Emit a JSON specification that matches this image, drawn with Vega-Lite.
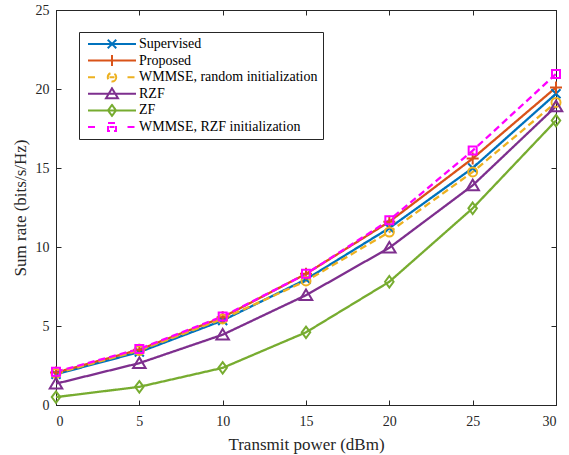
{
  "$schema": "https://vega.github.io/schema/vega-lite/v6.json",
  "width": 500,
  "height": 395,
  "autosize": {"type": "none"},
  "padding": {"left": 56, "top": 10, "right": 13, "bottom": 50},
  "background": "white",
  "config": {
    "view": {"stroke": "#262626", "strokeWidth": 1},
    "axis": {
      "grid": false,
      "labelFont": "Liberation Serif",
      "labelFontSize": 14,
      "labelColor": "#262626",
      "titleFont": "Liberation Serif",
      "titleFontSize": 17,
      "titleFontWeight": "normal",
      "titleColor": "#262626",
      "domainColor": "#262626",
      "tickColor": "#262626",
      "tickSize": -5,
      "domainWidth": 1
    },
    "point": {"filled": false, "size": 100, "strokeWidth": 2, "opacity": 1, "clip": false}
  },
  "data": {
    "values": [
      {"series": "Supervised", "x": 0, "y": 1.95},
      {"series": "Supervised", "x": 5, "y": 3.35},
      {"series": "Supervised", "x": 10, "y": 5.35},
      {"series": "Supervised", "x": 15, "y": 7.95},
      {"series": "Supervised", "x": 20, "y": 11.2},
      {"series": "Supervised", "x": 25, "y": 15.0},
      {"series": "Supervised", "x": 30, "y": 19.7},
      {"series": "Proposed", "x": 0, "y": 2.05},
      {"series": "Proposed", "x": 5, "y": 3.5},
      {"series": "Proposed", "x": 10, "y": 5.55},
      {"series": "Proposed", "x": 15, "y": 8.3},
      {"series": "Proposed", "x": 20, "y": 11.6},
      {"series": "Proposed", "x": 25, "y": 15.6},
      {"series": "Proposed", "x": 30, "y": 20.1},
      {"series": "WMMSE, random initialization", "x": 0, "y": 2.0},
      {"series": "WMMSE, random initialization", "x": 5, "y": 3.45},
      {"series": "WMMSE, random initialization", "x": 10, "y": 5.45},
      {"series": "WMMSE, random initialization", "x": 15, "y": 7.85},
      {"series": "WMMSE, random initialization", "x": 20, "y": 10.95},
      {"series": "WMMSE, random initialization", "x": 25, "y": 14.75},
      {"series": "WMMSE, random initialization", "x": 30, "y": 19.15},
      {"series": "RZF", "x": 0, "y": 1.35},
      {"series": "RZF", "x": 5, "y": 2.65},
      {"series": "RZF", "x": 10, "y": 4.45},
      {"series": "RZF", "x": 15, "y": 6.95},
      {"series": "RZF", "x": 20, "y": 9.95},
      {"series": "RZF", "x": 25, "y": 13.9},
      {"series": "RZF", "x": 30, "y": 18.9},
      {"series": "ZF", "x": 0, "y": 0.5},
      {"series": "ZF", "x": 5, "y": 1.15},
      {"series": "ZF", "x": 10, "y": 2.35},
      {"series": "ZF", "x": 15, "y": 4.6},
      {"series": "ZF", "x": 20, "y": 7.8},
      {"series": "ZF", "x": 25, "y": 12.45},
      {"series": "ZF", "x": 30, "y": 18.0},
      {"series": "WMMSE, RZF initialization", "x": 0, "y": 2.1},
      {"series": "WMMSE, RZF initialization", "x": 5, "y": 3.55},
      {"series": "WMMSE, RZF initialization", "x": 10, "y": 5.6},
      {"series": "WMMSE, RZF initialization", "x": 15, "y": 8.3},
      {"series": "WMMSE, RZF initialization", "x": 20, "y": 11.7},
      {"series": "WMMSE, RZF initialization", "x": 25, "y": 16.1},
      {"series": "WMMSE, RZF initialization", "x": 30, "y": 20.95}
    ]
  },
  "resolve": {"axis": {"x": "independent", "y": "independent"}},
  "layer": [
    {
      "mark": {"type": "line", "strokeWidth": 2.3, "clip": false},
      "encoding": {
        "x": {
          "field": "x", "type": "quantitative",
          "scale": {"domain": [0, 30], "nice": false, "zero": false},
          "axis": {"values": [0, 5, 10, 15, 20, 25, 30], "title": "Transmit power (dBm)", "labelPadding": 14, "titlePadding": 8}
        },
        "y": {
          "field": "y", "type": "quantitative",
          "scale": {"domain": [0, 25], "nice": false},
          "axis": {"values": [0, 5, 10, 15, 20, 25], "title": "Sum rate (bits/s/Hz)", "labelPadding": 12, "titlePadding": 6}
        },
        "color": {
          "field": "series", "type": "nominal",
          "scale": {
            "domain": ["Supervised", "Proposed", "WMMSE, random initialization", "RZF", "ZF", "WMMSE, RZF initialization"],
            "range": ["#0072BD", "#D95319", "#EDB120", "#7E2F8E", "#77AC30", "#FF00FF"]
          },
          "legend": {
            "title": null,
            "orient": "none",
            "legendX": 23,
            "legendY": 22,
            "padding": 5,
            "fillColor": "white",
            "strokeColor": "#262626",
            "cornerRadius": 0,
            "labelFont": "Liberation Serif",
            "labelFontSize": 14,
            "labelColor": "black",
            "labelLimit": 400,
            "labelOffset": 20,
            "symbolOffset": 21,
            "symbolSize": 100,
            "symbolStrokeWidth": 2,
            "clipHeight": 14,
            "rowPadding": 2.6,
            "symbolType": {"expr": "datum.value === 'Supervised' ? 'M-4.8,0L4.8,0M-0.85,-0.85L0.85,0.85M-0.85,0.85L0.85,-0.85' : datum.value === 'Proposed' ? 'M-4.8,0L4.8,0M0,-1.1L0,1.1' : datum.value === 'WMMSE, random initialization' ? 'M-4.8,0L-3.1,0M-0.5,0L0.5,0M3.1,0L4.8,0M0.85,0A0.85,0.85 0 1,1 -0.85,0A0.85,0.85 0 1,1 0.85,0' : datum.value === 'RZF' ? 'M-4.8,0L4.8,0M0,-1.1L1.2,0.9L-1.2,0.9Z' : datum.value === 'ZF' ? 'M-4.8,0L4.8,0M0,-1.1L0.8,0L0,1.1L-0.8,0Z' : 'M-4.8,0L-3.1,0M-0.5,0L0.5,0M3.1,0L4.8,0M-0.8,-0.8L0.8,-0.8L0.8,0.8L-0.8,0.8Z'"}
          }
        },
        "strokeDash": {
          "field": "series", "type": "nominal",
          "scale": {
            "domain": ["Supervised", "Proposed", "WMMSE, random initialization", "RZF", "ZF", "WMMSE, RZF initialization"],
            "range": [[1, 0], [1, 0], [7, 4], [1, 0], [1, 0], [7, 4]]
          },
          "legend": null
        }
      }
    },
    {
      "transform": [{"filter": "datum.series === 'Supervised'"}],
      "mark": {"type": "point", "shape": "M-0.9,-0.9L0.9,0.9M-0.9,0.9L0.9,-0.9"},
      "encoding": {
        "x": {"field": "x", "type": "quantitative", "axis": {"orient": "top", "values": [0, 5, 10, 15, 20, 25, 30], "labels": false, "title": null}},
        "y": {"field": "y", "type": "quantitative", "axis": {"orient": "right", "values": [0, 5, 10, 15, 20, 25], "labels": false, "title": null}},
        "color": {"field": "series", "type": "nominal", "legend": null}
      }
    },
    {
      "transform": [{"filter": "datum.series === 'Proposed'"}],
      "mark": {"type": "point", "shape": "M-1.2,0L1.2,0M0,-1.2L0,1.2"},
      "encoding": {
        "x": {"field": "x", "type": "quantitative", "axis": null},
        "y": {"field": "y", "type": "quantitative", "axis": null},
        "color": {"field": "series", "type": "nominal", "legend": null}
      }
    },
    {
      "transform": [{"filter": "datum.series === 'WMMSE, random initialization'"}],
      "mark": {"type": "point", "shape": "M0.9,0A0.9,0.9 0 1,1 -0.9,0A0.9,0.9 0 1,1 0.9,0"},
      "encoding": {
        "x": {"field": "x", "type": "quantitative", "axis": null},
        "y": {"field": "y", "type": "quantitative", "axis": null},
        "color": {"field": "series", "type": "nominal", "legend": null}
      }
    },
    {
      "transform": [{"filter": "datum.series === 'RZF'"}],
      "mark": {"type": "point", "shape": "M0,-1.15L1.25,0.95L-1.25,0.95Z"},
      "encoding": {
        "x": {"field": "x", "type": "quantitative", "axis": null},
        "y": {"field": "y", "type": "quantitative", "axis": null},
        "color": {"field": "series", "type": "nominal", "legend": null}
      }
    },
    {
      "transform": [{"filter": "datum.series === 'ZF'"}],
      "mark": {"type": "point", "shape": "M0,-1.15L0.85,0L0,1.15L-0.85,0Z"},
      "encoding": {
        "x": {"field": "x", "type": "quantitative", "axis": null},
        "y": {"field": "y", "type": "quantitative", "axis": null},
        "color": {"field": "series", "type": "nominal", "legend": null}
      }
    },
    {
      "transform": [{"filter": "datum.series === 'WMMSE, RZF initialization'"}],
      "mark": {"type": "point", "shape": "M-0.8,-0.8L0.8,-0.8L0.8,0.8L-0.8,0.8Z"},
      "encoding": {
        "x": {"field": "x", "type": "quantitative", "axis": null},
        "y": {"field": "y", "type": "quantitative", "axis": null},
        "color": {"field": "series", "type": "nominal", "legend": null}
      }
    }
  ]
}
